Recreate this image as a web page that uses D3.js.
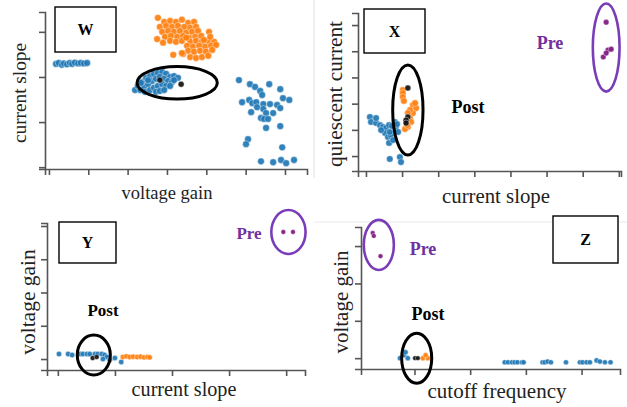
<!DOCTYPE html>
<html><head><meta charset="utf-8">
<script src="https://cdn.jsdelivr.net/npm/d3@7"></script>
<style>body{margin:0;background:#fff}svg{display:block}</style>
</head><body>
<svg id="c" width="627" height="407"></svg>
<script>
// ---------- DATA (values in each panel's own axis units; ticks at integers) ----------
const W_ticksX = [0,1,2,3,4,5,6];
const W_ticksY = [0,1,2,3];
const W_blueLeft = [[0.18,2.29],[0.25,2.31],[0.33,2.27],[0.38,2.30],[0.46,2.28],[0.53,2.31],[0.59,2.29],[0.66,2.32],[0.74,2.30],[0.81,2.31],[0.89,2.30],[0.97,2.31]];
const W_blueMid = [[2.19,1.71],[2.26,1.80],[2.37,1.89],[2.47,1.98],[2.57,2.02],[2.67,2.07],[2.77,2.09],[2.88,2.11],[2.98,2.07],[3.08,2.00],[3.18,2.02],[3.28,1.98],
  [2.32,1.71],[2.42,1.78],[2.52,1.84],[2.62,1.91],[2.72,1.96],[2.82,2.00],[2.93,1.96],[3.03,1.91],[3.13,1.89],[2.44,1.67],[2.57,1.71],[2.67,1.76],
  [2.77,1.80],[2.88,1.84],[2.98,1.80],[3.08,1.80],[2.72,1.67],[2.82,1.69],[2.93,1.71],[2.52,1.93],[2.34,1.87],[3.18,1.93]];
const W_blueRight = [[4.83,1.93],[5.11,1.84],[5.24,1.78],[5.37,1.69],[5.42,1.60],[5.60,1.84],[5.88,1.73],[4.91,1.44],[5.09,1.49],[5.17,1.42],[5.27,1.44],[5.45,1.40],
  [5.62,1.40],[5.80,1.38],[5.88,1.31],[5.95,1.53],[6.11,1.49],[5.14,1.22],[5.29,1.33],[5.45,1.29],[5.52,1.20],[5.70,1.20],[5.39,1.09],[5.47,1.07],
  [5.57,1.07],[5.52,0.87],[5.88,0.91],[5.06,0.62],[5.01,0.51],[5.93,0.44],[5.39,0.13],[5.70,0.11],[5.90,0.16],[6.03,0.09],[6.23,0.16]];
const W_orange = [[2.77,3.31],[2.93,3.22],[3.08,3.24],[3.23,3.22],[3.38,3.27],[3.54,3.20],[3.69,3.22],[2.82,3.11],[2.98,3.13],[3.13,3.11],[3.28,3.13],[3.44,3.11],
  [3.59,3.09],[3.74,3.11],[2.88,3.00],[3.03,3.02],[3.18,3.00],[3.33,3.02],[3.49,2.98],[3.64,3.00],[3.79,3.02],[2.95,2.89],[3.10,2.91],[3.26,2.89],
  [3.41,2.91],[3.56,2.87],[3.72,2.89],[3.87,2.91],[2.75,2.84],[2.90,2.76],[3.08,2.80],[3.23,2.78],[3.38,2.80],[4.07,3.00],[3.59,2.78],[3.74,2.80],
  [3.89,2.78],[4.05,2.80],[4.20,2.78],[3.51,2.69],[3.66,2.67],[3.82,2.69],[3.97,2.67],[4.12,2.69],[4.25,2.71],[3.54,2.58],[3.69,2.56],[3.84,2.58],
  [3.99,2.56],[4.15,2.60],[3.41,2.51],[3.59,2.44],[3.74,2.42],[3.89,2.44],[4.05,2.47],[3.16,2.49],[3.38,2.53],[3.94,2.82],[4.10,2.89],[3.49,2.87]];
const W_black = [[2.82,1.93],[3.36,1.84]];
const W_ellipses = [{cx:3.26, cy:1.87, rx:1.02, ry:0.36, kind:"post"}];

const X_ticksX = [0,1,2,3,4,5,6,7];
const X_ticksY = [0,1,2,3,4,5];
const X_blue = [[0.11,1.49],[0.14,1.30],[0.28,1.26],[0.39,1.18],[0.47,1.11],[0.55,1.07],[0.64,1.18],[0.80,1.30],[0.83,1.11],[0.89,0.92],[0.53,0.88],
  [0.61,0.73],[0.69,0.80],[0.64,0.50],[0.75,0.61],[0.94,-0.04],[0.97,-0.23],[0.66,-0.11],[0.66,0.92],[0.42,0.99],[0.28,1.45],[0.72,1.15],[0.86,1.22]];
const X_orange = [[1.02,2.52],[1.02,2.40],[1.02,2.25],[1.05,2.10],[1.30,1.95],[1.39,1.83],[1.36,2.02],[1.30,1.64],[1.22,1.76],[1.22,1.45],[1.25,1.30],
  [1.16,1.64],[1.16,1.11],[1.08,1.03],[1.14,1.18]];
const X_black = [[1.16,2.60],[1.16,1.49],[1.11,1.37],[1.11,1.26]];
const X_purple = [[6.65,5.11],[6.70,4.05],[6.79,4.08],[6.57,3.78],[6.65,3.93]];
const X_ellipses = [{cx:1.16, cy:1.76, rx:0.42, ry:1.72, kind:"post"},{cx:6.65, cy:4.14, rx:0.37, ry:1.68, kind:"pre"}];

const Y_ticksX = [0,1,2,3,4];
const Y_ticksY = [0,1,2,3,4];
const Y_blue = [[0.02,0.15],[0.18,0.15],[0.25,0.12],[0.39,0.15],[0.44,0.15],[0.51,0.15],[0.56,0.15],[0.65,0.15],[0.70,0.15],[0.77,0.15],[0.82,0.12],
  [0.86,0.06],[0.91,-0.03],[0.79,0.00],[1.11,-0.09],[1.00,0.03]];
const Y_orange = [[1.14,0.06],[1.20,0.08],[1.26,0.06],[1.32,0.07],[1.39,0.06],[1.45,0.07],[1.51,0.05],[1.57,0.06],[1.61,0.05]];
const Y_black = [[0.61,0.03],[0.68,0.06]];
const Y_purple = [[3.95,3.82],[4.12,3.82]];
const Y_ellipses = [{cx:0.63, cy:0.12, rx:0.29, ry:0.60, kind:"post"},{cx:4.04, cy:3.82, rx:0.30, ry:0.66, kind:"pre"}];

const Z_ticksX = [1,2,3,4];
const Z_ticksY = [0,1,2,3];
const Z_blue = [[0.74,0.00],[0.81,0.08],[0.84,0.16],[0.88,0.00],[2.62,-0.11],[2.68,-0.11],[2.75,-0.11],[2.80,-0.11],[2.85,-0.11],[2.93,-0.11],[2.96,-0.11],
  [3.30,-0.11],[3.34,-0.11],[3.39,-0.09],[3.45,-0.11],[3.72,-0.11],[3.97,-0.11],[4.02,-0.11],[4.09,-0.11],[4.15,-0.11],[4.27,-0.06],[4.33,-0.09],[4.42,-0.11],[4.52,-0.11]];
const Z_orange = [[1.15,0.00],[1.24,0.00],[1.20,0.08]];
const Z_black = [[1.01,0.00],[1.06,0.00]];
const Z_purple = [[0.25,3.35],[0.27,3.27],[0.39,2.73]];
const Z_ellipses = [{cx:1.04, cy:0.00, rx:0.27, ry:0.67, kind:"post"},{cx:0.36, cy:3.03, rx:0.27, ry:0.67, kind:"pre"}];

// ---------- STYLE / LAYOUT ----------
const C = {blue:"#1f77b4", orange:"#ff7f0e", black:"#111", purple:"#7e1580", preText:"#7030a0", preRing:"#7a3db8", axis:"#555", text:"#222"};
const svg = d3.select("#c");
const serif = "'Liberation Serif','Times New Roman',serif";

// faint panel separators
svg.append("line").attr("x1",314).attr("x2",314).attr("y1",0).attr("y2",178).attr("stroke","#e2e2e2").attr("stroke-width",1);
svg.append("line").attr("x1",314).attr("x2",627).attr("y1",222).attr("y2",222).attr("stroke","#e8e8e8").attr("stroke-width",1);

function panel(cfg){
  const x = d3.scaleLinear().domain(cfg.xd).range(cfg.xr);
  const y = d3.scaleLinear().domain(cfg.yd).range(cfg.yr);
  const g = svg.append("g");
  const ax = g.append("g").attr("transform",`translate(0,${cfg.yr[0]})`)
    .call(d3.axisBottom(x).tickValues(cfg.tx).tickFormat("").tickSizeOuter(0).tickSize(6));
  const ay = g.append("g").attr("transform",`translate(${cfg.xr[0]},0)`)
    .call(d3.axisLeft(y).tickValues(cfg.ty).tickFormat("").tickSizeOuter(0).tickSize(6));
  [ax,ay].forEach(a=>{a.selectAll("path,line").attr("stroke",C.axis).attr("stroke-width",1.6);});

  cfg.series.forEach(s=>{
    g.append("g").selectAll("circle").data(s.data).join("circle")
      .attr("cx",d=>x(d[0])).attr("cy",d=>y(d[1])).attr("r",s.r)
      .attr("fill",s.color).attr("fill-opacity",0.92)
      .attr("stroke","#fff").attr("stroke-width",0.5).attr("stroke-opacity",0.8);
  });
  cfg.ellipses.forEach(e=>{
    g.append("ellipse").attr("cx",x(e.cx)).attr("cy",y(e.cy))
      .attr("rx",Math.abs(x(e.cx+e.rx)-x(e.cx))).attr("ry",Math.abs(y(e.cy+e.ry)-y(e.cy)))
      .attr("fill","none").attr("stroke",e.kind==="pre"?C.preRing:"#000").attr("stroke-width",e.kind==="pre"?2.6:3);
  });
  // letter box
  const b = cfg.box;
  g.append("rect").attr("x",b[0]).attr("y",b[1]).attr("width",b[2]).attr("height",b[3])
    .attr("fill","#fff").attr("stroke","#000").attr("stroke-width",1.4);
  g.append("text").attr("x",b[0]+b[2]/2).attr("y",b[1]+b[3]/2).attr("text-anchor","middle").attr("dominant-baseline","central")
    .attr("font-family",serif).attr("font-weight","bold").attr("font-size",16).attr("fill","#000").text(cfg.letter);
  // axis titles
  g.append("text").attr("x",cfg.xl[0]).attr("y",cfg.xl[1]).attr("text-anchor","middle")
    .attr("font-family",serif).attr("font-size",cfg.xl[2]).attr("fill",C.text).text(cfg.xlabel);
  g.append("text").attr("transform",`translate(${cfg.yl[0]},${cfg.yl[1]}) rotate(-90)`).attr("text-anchor","middle").attr("dominant-baseline","central")
    .attr("font-family",serif).attr("font-size",cfg.yl[2]).attr("fill",C.text).text(cfg.ylabel);
  (cfg.notes||[]).forEach(n=>{
    g.append("text").attr("x",n[1]).attr("y",n[2]).attr("text-anchor","middle")
      .attr("font-family",serif).attr("font-weight","bold").attr("font-size",n[3])
      .attr("fill",n[0]==="Pre"?C.preText:"#000").text(n[0]);
  });
}

panel({xd:[-0.10,6.56], xr:[45,307], yd:[-0.04,3.44], yr:[169,12], tx:W_ticksX, ty:W_ticksY,
  series:[{data:W_blueLeft,color:C.blue,r:3.4},{data:W_blueMid,color:C.blue,r:3.4},{data:W_blueRight,color:C.blue,r:3.4},
          {data:W_orange,color:C.orange,r:3.4},{data:W_black,color:C.black,r:3}],
  ellipses:W_ellipses, box:[55,7,61,45], letter:"W",
  xlabel:"voltage gain", xl:[167,199,18.5], ylabel:"current slope", yl:[19,93,19.3]});

panel({xd:[-0.22,7.06], xr:[358,621], yd:[-0.57,5.46], yr:[171,13], tx:X_ticksX, ty:X_ticksY,
  series:[{data:X_blue,color:C.blue,r:3.3},{data:X_orange,color:C.orange,r:3.3},{data:X_black,color:C.black,r:3},{data:X_purple,color:C.purple,r:2.8}],
  ellipses:X_ellipses, box:[364,9,61,44], letter:"X",
  xlabel:"current slope", xl:[496,203,20.8], ylabel:"quiescent current", yl:[335,94,21.3],
  notes:[["Post",468,113,18],["Pre",550,49,18]]});

panel({xd:[-0.19,4.33], xr:[47,305], yd:[-0.33,4.09], yr:[370,223], tx:Y_ticksX, ty:Y_ticksY,
  series:[{data:Y_blue,color:C.blue,r:2.7},{data:Y_orange,color:C.orange,r:2.7},{data:Y_black,color:C.black,r:2.5},{data:Y_purple,color:C.purple,r:2.4}],
  ellipses:Y_ellipses, box:[59,222,57,41], letter:"Y",
  xlabel:"current slope", xl:[184,396,20.2], ylabel:"voltage gain", yl:[28,302,21.5],
  notes:[["Post",103,316,17],["Pre",249,239,17]]});

panel({xd:[0.04,4.69], xr:[361,620], yd:[-0.29,3.51], yr:[369,227], tx:Z_ticksX, ty:Z_ticksY,
  series:[{data:Z_blue,color:C.blue,r:2.6},{data:Z_orange,color:C.orange,r:2.6},{data:Z_black,color:C.black,r:2.4},{data:Z_purple,color:C.purple,r:2.4}],
  ellipses:Z_ellipses, box:[553,216,65,47], letter:"Z",
  xlabel:"cutoff frequency", xl:[497,398,21], ylabel:"voltage gain", yl:[341,302,21],
  notes:[["Post",428,320,18],["Pre",423,255,18]]});
</script>
</body></html>
